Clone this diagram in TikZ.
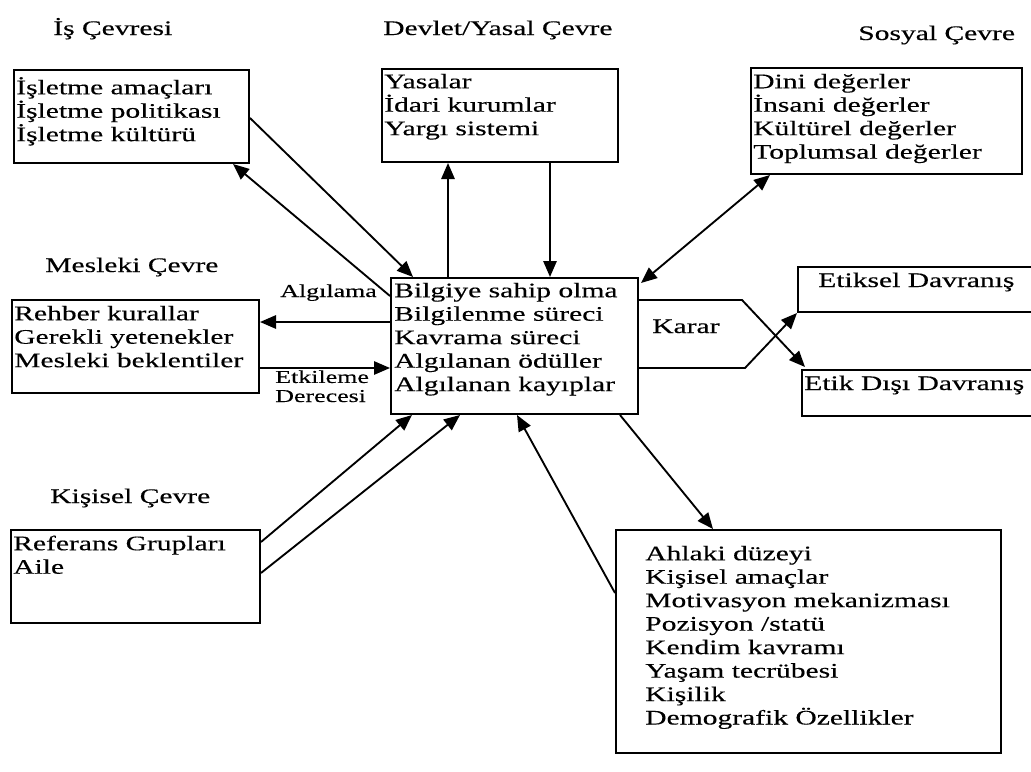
\documentclass[tikz,border=0pt]{standalone}
\usepackage{fontspec}
\setmainfont{Liberation Serif}[FakeStretch=1.43,FakeBold=0.3]
\usetikzlibrary{arrows.meta,fit}
\newcommand{\firstline}{\rule{0pt}{14pt}}
\begin{document}
\begin{tikzpicture}[x=0.75pt,y=-0.75pt,
  box/.style={draw, line width=1.5pt, inner sep=0pt, fit={#1}},
  body/.style={anchor=north west, inner sep=0pt, align=left,
    font=\fontsize{15.5pt}{17.6pt}\selectfont},
  lbl/.style={anchor=base west, inner sep=0pt,
    font=\fontsize{15.5pt}{17.6pt}\selectfont},
  small/.style={anchor=base west, inner sep=0pt, align=left,
    font=\fontsize{13.6pt}{14.3pt}\selectfont},
  tip/.tip={Triangle[length=12pt,width=10pt]},
  link/.style={line width=1.4pt, -tip},
  both/.style={line width=1.4pt, tip-tip},
]
\fill[white] (0,0) rectangle (1031,771);
\clip (0,0) rectangle (1031,771);

% headings of the surrounding environments
\node[lbl] (is-h)  at (53,35)  {İş Çevresi};
\node[lbl] (dev-h) at (383,35) {Devlet/Yasal Çevre};
\node[lbl] (sos-h) at (858,40) {Sosyal Çevre};
\node[lbl] (mes-h) at (45,272) {Mesleki Çevre};
\node[lbl] (kis-h) at (50,503) {Kişisel Çevre};

% boxes
\node[box={(14,70)(249,163)}]    (is)  {};
\node[box={(382,69)(618,162)}]   (dev) {};
\node[box={(751,68)(1022,174)}]  (sos) {};
\node[box={(12,300)(259,393)}]   (mes) {};
\node[box={(391,278)(638,414)}]  (cen) {};
\node[box={(11,530)(260,623)}]   (kis) {};
\node[box={(616,530)(1001,753)}] (bir) {};
\node[box={(798,267)(1045,312)}] (eti) {};
\node[box={(802,370)(1045,416)}] (etd) {};

% box contents
\node[body] (is-t)  at (16,75.3)   {\firstline İşletme amaçları\\İşletme politikası\\İşletme kültürü};
\node[body] (dev-t) at (384,69.3)  {\firstline Yasalar\\İdari kurumlar\\Yargı sistemi};
\node[body] (sos-t) at (753,69.3)  {\firstline Dini değerler\\İnsani değerler\\Kültürel değerler\\Toplumsal değerler};
\node[body] (mes-t) at (14,301.3)  {\firstline Rehber kurallar\\Gerekli yetenekler\\Mesleki beklentiler};
\node[body] (cen-t) at (394,278.3) {\firstline Bilgiye sahip olma\\Bilgilenme süreci\\Kavrama süreci\\Algılanan ödüller\\Algılanan kayıplar};
\node[body] (kis-t) at (13,531.3)  {\firstline Referans Grupları\\Aile};
\node[body] (bir-t) at (645,541.3) {\firstline Ahlaki düzeyi\\Kişisel amaçlar\\Motivasyon mekanizması\\Pozisyon /statü\\Kendim kavramı\\Yaşam tecrübesi\\Kişilik\\Demografik Özellikler};
\node[lbl] (eti-t) at (818,287) {Etiksel Davranış};
\node[lbl] (etd-t) at (804,390) {Etik Dışı Davranış};

% connector labels
\node[small] (alg) at (280,297) {Algılama};
\node[lbl] (karar) at (652,333) {Karar};
\node[small] (etk) at (275,402) {Etkileme\\Derecesi};

% connectors
\draw[link] (is.east |- 0,118) -- (413,0 |- cen.north);
\draw[link] (cen.west |- 0,296) -- (233,0 |- is.south);
\draw[link] (448,0 |- cen.north) -- (448,0 |- dev.south);
\draw[link] (550,0 |- dev.south) -- (550,0 |- cen.north);
\draw[both] ([shift={(2,6)}]cen.north east) -- (770,0 |- sos.south);
\draw[link] (cen.west |- 0,322) -- (mes.east |- 0,322);
\draw[link] (mes.east |- 0,368) -- (cen.west |- 0,368);
\draw[link] (kis.east |- 0,542) -- (412,0 |- cen.south);
\draw[link] (kis.east |- 0,573) -- (460,0 |- cen.south);
\draw[link] (bir.west |- 0,593) -- (517,0 |- cen.south);
\draw[link] (620,0 |- cen.south) -- (713,0 |- bir.north);

% decision outlet
\draw[link] (cen.east |- 0,300) -- (742,300) -- ([shift={(4,-2)}]etd.north west);
\draw[link] (cen.east |- 0,368) -- (745,368) -- (eti.south west);
\end{tikzpicture}
\end{document}
